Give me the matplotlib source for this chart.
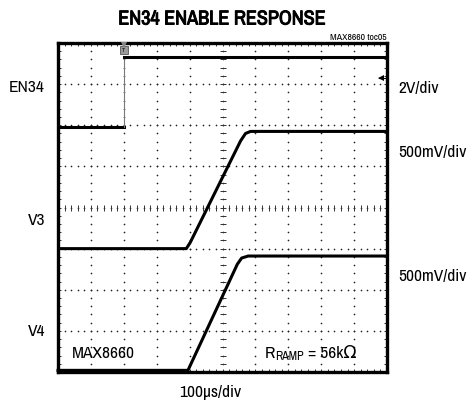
import matplotlib
matplotlib.use("Agg")
import matplotlib.pyplot as plt
import matplotlib.patheffects as pe
import numpy as np
from matplotlib import font_manager

# ---- data (in scope divisions: x 0..10, y 0..8) ----
en34_x = [0.0, 2.0, 2.0, 10.0]
en34_y = [5.96, 5.96, 7.66, 7.66]

v3_x = [0.0, 3.90, 4.02, 5.55, 5.70, 5.85, 10.0]
v3_y = [3.00, 3.00, 3.15, 5.62, 5.80, 5.85, 5.85]

v4_x = [0.0, 3.95, 5.45, 5.58, 5.78, 10.0]
v4_y = [0.04, 0.04, 2.62, 2.77, 2.82, 2.82]

n_xdiv = 10
n_ydiv = 8

# pick a narrow font if one is installed
entries = font_manager.fontManager.ttflist
names = {f.name for f in entries}
narrow = sorted(n for n in names if ('Narrow' in n or 'Condensed' in n) and 'Mono' not in n and 'Serif' not in n)
if narrow:
    FONT, SCALE = narrow[0], 1.0
elif 'Roboto' in names:
    FONT, SCALE = 'Roboto', 0.84
else:
    FONT, SCALE = 'Liberation Sans', 0.84
plt.rcParams['font.family'] = [FONT, 'DejaVu Sans']

fig = plt.figure(figsize=(4.69, 4.03), dpi=100)
ax = fig.add_axes([58/469, 1-372/403, (387-58)/469, (372-43)/403])
ax.set_xlim(0, n_xdiv)
ax.set_ylim(0, n_ydiv)

# grid of dots
minor_x = np.arange(0, n_xdiv + 0.001, 0.2)
minor_y = np.arange(0, n_ydiv + 0.001, 0.2)
for gx in range(1, n_xdiv):
    ax.plot(np.full_like(minor_y, gx), minor_y, ls='none', marker='o', ms=1.2,
            color='#222222', mew=0, zorder=1)
for gy in range(1, n_ydiv):
    ax.plot(minor_x, np.full_like(minor_x, gy), ls='none', marker='o', ms=1.2,
            color='#222222', mew=0, zorder=1)
# center cross ticks
ax.plot(minor_x, np.full_like(minor_x, n_ydiv/2), ls='none', marker='|', ms=4,
        mew=0.7, color='#333333', zorder=1)
ax.plot(np.full_like(minor_y, n_xdiv/2), minor_y, ls='none', marker='_', ms=4,
        mew=0.7, color='#333333', zorder=1)

# edge ticks
ax.set_xticks(range(0, n_xdiv+1))
ax.set_yticks(range(0, n_ydiv+1))
ax.set_xticks(minor_x, minor=True)
ax.set_yticks(minor_y, minor=True)
ax.tick_params(which='both', direction='in', top=True, right=True,
               labelbottom=False, labelleft=False, length=2.5, width=0.7,
               color='#333333')
for s in ax.spines.values():
    s.set_linewidth(2.4)

# traces
ax.plot(en34_x[:2], en34_y[:2], color='black', lw=2.2, zorder=3)
ax.plot(en34_x[1:3], en34_y[1:3], color='#777777', lw=0.8, zorder=3)
ax.plot(en34_x[2:], en34_y[2:], color='black', lw=2.2, zorder=3)
ax.plot(v3_x, v3_y, color='black', lw=2.2, zorder=3, solid_joinstyle='round')
ax.plot(v4_x, v4_y, color='black', lw=2.2, zorder=3, solid_joinstyle='round', clip_on=False)

# trigger marker
ax.plot([2.0], [7.82], marker='s', ms=5.5, color='#999999', mec='#555555', mew=0.6, zorder=4)
ax.text(2.0, 7.82, 'T', fontsize=4.5, ha='center', va='center', color='black', zorder=5)
ax.plot([2.0], [7.96], marker='v', ms=4, color='#888888', mew=0, zorder=4, clip_on=False)
# channel marker
ax.plot([9.82], [7.15], marker='<', ms=5, color='black', mew=0, zorder=4)
ax.plot([9.75, 9.95], [7.15, 7.15], color='black', lw=0.8, zorder=4)

# texts
fs = 12.5 * SCALE
bold_fx = [pe.withStroke(linewidth=0.7, foreground='black')]
fig.text(222/469, 1-19/403, 'EN34 ENABLE RESPONSE', fontsize=14.5 * SCALE,
         fontweight='bold', ha='center', va='center', path_effects=bold_fx)
fig.text(387/469, 1-37/403, 'MAX8660 toc05', fontsize=7 * SCALE, ha='right', va='center')
fig.text(45/469, 1-88/403, 'EN34', fontsize=fs, ha='right', va='center')
fig.text(45/469, 1-220/403, 'V3', fontsize=fs, ha='right', va='center')
fig.text(45/469, 1-332/403, 'V4', fontsize=fs, ha='right', va='center')
fig.text(398/469, 1-88/403, '2V/div', fontsize=fs, ha='left', va='center')
fig.text(398/469, 1-153/403, '500mV/div', fontsize=fs, ha='left', va='center')
fig.text(398/469, 1-277/403, '500mV/div', fontsize=fs, ha='left', va='center')
fig.text(210/469, 1-393/403, '100µs/div', fontsize=fs, ha='center', va='center')
fig.text(72/469, 1-353/403, 'MAX8660', fontsize=fs, ha='left', va='center')
# R_RAMP = 56kΩ built from pieces
fig.text(265/469, 1-353/403, 'R', fontsize=fs, ha='left', va='center')
fig.text(275/469, 1-357/403, 'RAMP', fontsize=fs * 0.7, ha='left', va='center')
fig.text(308/469, 1-353/403, '= 56kΩ', fontsize=fs, ha='left', va='center')

fig.savefig('out.png', dpi=100)
